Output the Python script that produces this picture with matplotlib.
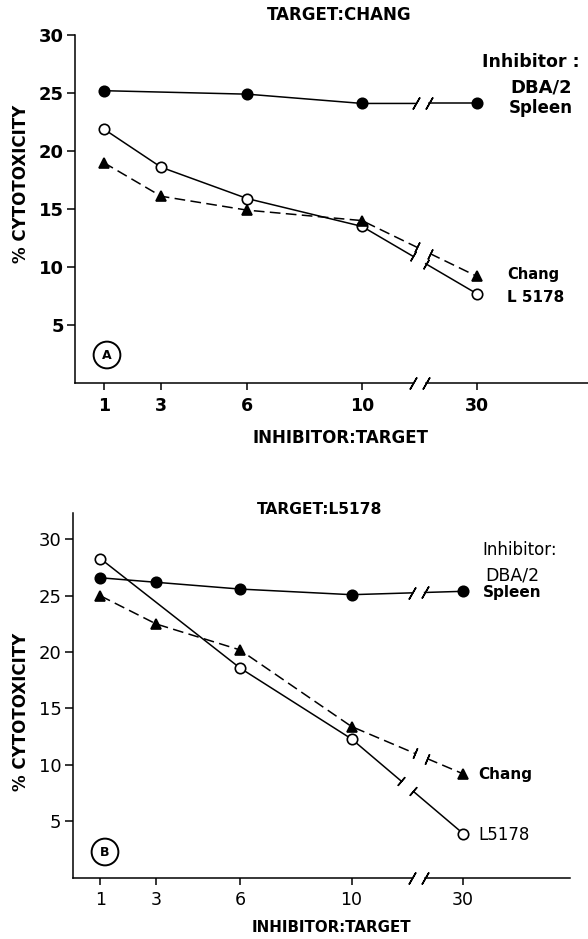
import math

import matplotlib

matplotlib.use("Agg")
import matplotlib.pyplot as plt

plt.rcParams["font.family"] = ["DejaVu Sans"]

W, H = 588, 939

# inhibitor:target ratios and where they sit on the (broken) x axis
RATIO_LABELS = ["1", "3", "6", "10", "30"]
RATIO_POS = {1: 1, 3: 3, 6: 6, 10: 10, 30: 14}

# panel A - target: Chang
A_DBA_X = [1, 6, 10, 30]
A_DBA_Y = [25.2, 24.9, 24.1, 24.1]
A_L5178_X = [1, 3, 6, 10, 30]
A_L5178_Y = [21.9, 18.6, 15.9, 13.5, 7.7]
A_CHANG_X = [1, 3, 6, 10, 30]
A_CHANG_Y = [19.0, 16.1, 14.9, 14.0, 9.2]

# panel B - target: L5178
B_DBA_X = [1, 3, 6, 10, 30]
B_DBA_Y = [26.6, 26.2, 25.6, 25.1, 25.4]
B_L5178_X = [1, 6, 10, 30]
B_L5178_Y = [28.3, 18.6, 12.3, 3.9]
B_CHANG_X = [1, 3, 6, 10, 30]
B_CHANG_Y = [25.0, 22.5, 20.2, 13.4, 9.2]

LW = 1.1
GAP = 0.22


def fx(px):
    return px / W


def fy(py):
    return 1 - py / H


def draw_series(ax, ratios, values, marker, filled, dashed, brk, slash=False, ms=7.5):
    xs = [RATIO_POS[r] for r in ratios]
    ys = list(values)
    ls = (0, (7, 3.5)) if dashed else "-"
    x0, y0, x1, y1 = xs[-2], ys[-2], xs[-1], ys[-1]
    xa, xb = brk - GAP, brk + GAP
    ya = y0 + (y1 - y0) * (xa - x0) / (x1 - x0)
    yb = y0 + (y1 - y0) * (xb - x0) / (x1 - x0)
    ax.plot(xs[:-1] + [xa], ys[:-1] + [ya], color="black", lw=LW, ls=ls)
    ax.plot([xb, x1], [yb, y1], color="black", lw=LW, ls=ls)
    p0 = ax.transData.transform((x0, y0))
    p1 = ax.transData.transform((x1, y1))
    ang = math.degrees(math.atan2(p1[1] - p0[1], p1[0] - p0[0]))
    bar = (2, 2, -30) if slash else (2, 2, ang)
    ax.plot([xa, xb], [ya, yb], ls="none", marker=bar, ms=10 if slash else 8,
            mec="black", mew=LW)
    face = "black" if filled else "white"
    ax.plot(xs, ys, ls="none", marker=marker, ms=ms, mfc=face, mec="black",
            mew=1.2, zorder=4)


def setup_axes(ax, ytop, xmax, brk, bold):
    wt = "bold" if bold else "normal"
    ax.set_xlim(0, xmax)
    ax.set_ylim(0, ytop)
    for side in ["top", "right", "bottom"]:
        ax.spines[side].set_visible(False)
    ax.spines["left"].set_linewidth(LW)
    ax.spines["left"].set_bounds(0, min(ytop, 32.4))
    ax.set_yticks([5, 10, 15, 20, 25, 30])
    ax.set_yticklabels(["5", "10", "15", "20", "25", "30"], fontsize=13, fontweight=wt)
    ax.set_xticks(list(RATIO_POS.values()))
    ax.set_xticklabels(RATIO_LABELS, fontsize=12.5, fontweight=wt)
    ax.tick_params(axis="y", direction="out", length=6, width=LW, pad=2)
    ax.tick_params(axis="x", direction="out", length=5, width=LW, pad=5)
    # x axis drawn by hand, broken between 10 and 30
    ax.plot([0, brk - GAP], [0, 0], color="black", lw=LW, clip_on=False)
    ax.plot([brk + GAP, xmax], [0, 0], color="black", lw=LW, clip_on=False)
    ax.plot([brk - GAP, brk + GAP], [0, 0], ls="none", marker=(2, 2, -30), ms=10,
            mec="black", mew=LW, clip_on=False)


def circled(x, y, letter):
    fig.text(fx(x), fy(y), letter, ha="center", va="center", fontsize=9, fontweight="bold",
             bbox=dict(boxstyle="circle,pad=0.55", fc="white", ec="black", lw=1.4))


fig = plt.figure(figsize=(W / 100, H / 100), dpi=100)

# ---- panel A ----
axA = fig.add_axes([fx(75), fy(383), fx(588 - 75), (383 - 35) / H])
setup_axes(axA, 30, (588 - 75) / 28.7, 12.0, True)
draw_series(axA, A_DBA_X, A_DBA_Y, "o", True, False, 12.1, slash=True)
draw_series(axA, A_L5178_X, A_L5178_Y, "o", False, False, 12.0)
draw_series(axA, A_CHANG_X, A_CHANG_Y, "^", True, True, 12.15)

fig.text(fx(339), fy(15), "TARGET:CHANG", ha="center", va="center", fontsize=12, fontweight="bold")
fig.text(fx(21), fy(184), "% CYTOTOXICITY", rotation=90, ha="center", va="center",
         fontsize=12, fontweight="bold")
fig.text(fx(341), fy(438), "INHIBITOR:TARGET", ha="center", va="center", fontsize=12, fontweight="bold")
fig.text(fx(482), fy(62), "Inhibitor :", ha="left", va="center", fontsize=12.5, fontweight="bold")
fig.text(fx(541), fy(88), "DBA/2", ha="center", va="center", fontsize=13, fontweight="bold")
fig.text(fx(541), fy(108), "Spleen", ha="center", va="center", fontsize=12, fontweight="bold")
fig.text(fx(507), fy(275), "Chang", ha="left", va="center", fontsize=10.5, fontweight="bold")
fig.text(fx(507), fy(298), "L 5178", ha="left", va="center", fontsize=11, fontweight="bold")
circled(107, 355, "A")

# ---- panel B ----
axB = fig.add_axes([fx(72.5), fy(877.5), fx(570 - 72.5), (877.5 - 513) / H])
setup_axes(axB, 32.35, (570 - 72.5) / 27.9, 12.4, False)
draw_series(axB, B_DBA_X, B_DBA_Y, "o", True, False, 12.4, slash=True)
draw_series(axB, B_L5178_X, B_L5178_Y, "o", False, False, 12.0)
draw_series(axB, B_CHANG_X, B_CHANG_Y, "^", True, True, 12.5)

fig.text(fx(320), fy(510), "TARGET:L5178", ha="center", va="center", fontsize=11.2, fontweight="bold")
fig.text(fx(21), fy(712), "% CYTOTOXICITY", rotation=90, ha="center", va="center",
         fontsize=12, fontweight="bold")
fig.text(fx(331), fy(928), "INHIBITOR:TARGET", ha="center", va="center", fontsize=10.8, fontweight="bold")
fig.text(fx(482), fy(550), "Inhibitor:", ha="left", va="center", fontsize=12)
fig.text(fx(512), fy(575), "DBA/2", ha="center", va="center", fontsize=12.5)
fig.text(fx(512), fy(593), "Spleen", ha="center", va="center", fontsize=11, fontweight="bold")
fig.text(fx(478), fy(775), "Chang", ha="left", va="center", fontsize=11, fontweight="bold")
fig.text(fx(478), fy(835), "L5178", ha="left", va="center", fontsize=12)
circled(105, 852, "B")

fig.savefig("out.png", dpi=100)
